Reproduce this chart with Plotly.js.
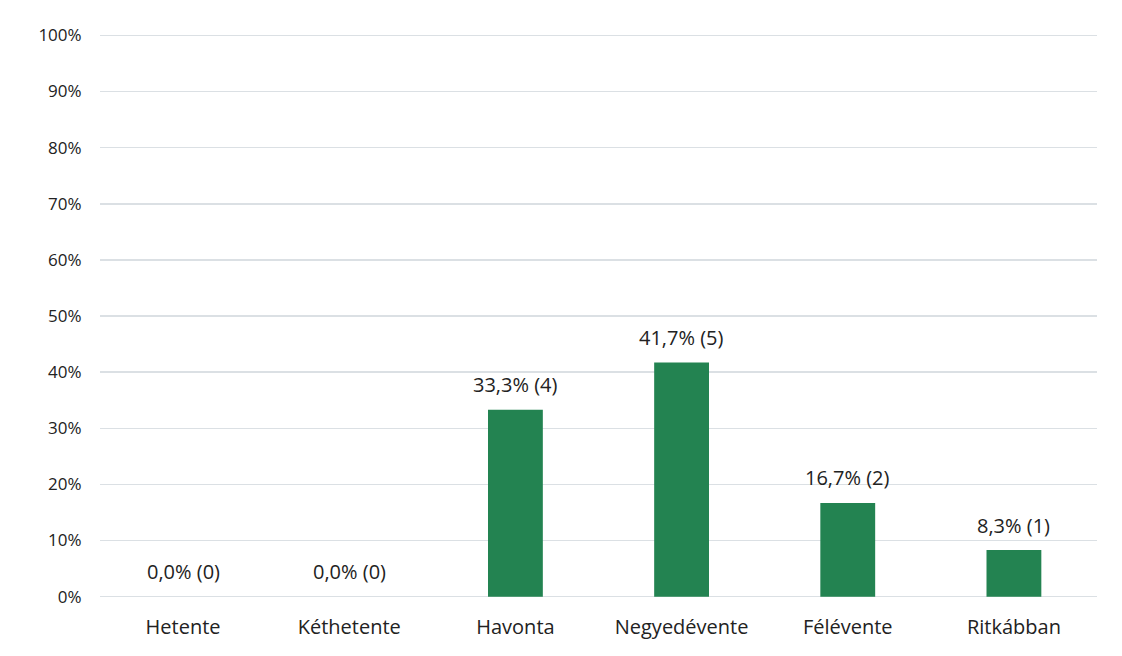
<!DOCTYPE html>
<html>
<head>
<meta charset="utf-8">
<script src="https://cdn.plot.ly/plotly-3.0.1.min.js"></script>
<style>html,body{margin:0;padding:0;background:#fff;}#chart{width:1122px;height:656px;}</style>
</head>
<body>
<div id="chart"></div>
<script>
const categories = ["Hetente", "Kéthetente", "Havonta", "Negyedévente", "Félévente", "Ritkábban"];
const percents = [0.0, 0.0, 33.3, 41.7, 16.7, 8.3];
const counts = [0, 0, 4, 5, 2, 1];
const labels = percents.map((p, i) => p.toFixed(1).replace('.', ',') + '% (' + counts[i] + ')');
const yTicks = [0,10,20,30,40,50,60,70,80,90,100];
const yTickText = yTicks.map(v => v + '%');

const trace = {
  type: 'bar',
  x: categories,
  y: percents,
  marker: {color: '#238351'},
  hoverinfo: 'none'
};

const annotations = categories.map((c, i) => ({
  x: c, y: percents[i], xref: 'x', yref: 'y',
  text: labels[i], showarrow: false,
  yanchor: 'middle', yshift: 25,
  font: {family: 'Open Sans, sans-serif', size: 20, color: '#222'}
}));

const layout = {
  width: 1122, height: 656,
  margin: {l: 100, r: 25, t: 32, b: 56},
  paper_bgcolor: '#ffffff',
  plot_bgcolor: '#ffffff',
  bargap: 0.67,
  showlegend: false,
  annotations: annotations,
  font: {family: 'Open Sans, sans-serif', size: 17, color: '#222'},
  xaxis: {
    tickfont: {size: 20, color: '#222'},
    showgrid: false, zeroline: false, showline: false,
    ticks: 'outside', ticklen: 9, tickcolor: 'rgba(0,0,0,0)'
  },
  yaxis: {
    range: [-0.6, 100.6],
    tickvals: yTicks, ticktext: yTickText,
    tickfont: {size: 17, color: '#222'},
    showgrid: true, gridcolor: '#dbe0e4', gridwidth: 1.5,
    zeroline: false, showline: false,
    ticks: 'outside', ticklen: 14, tickcolor: 'rgba(0,0,0,0)'
  }
};

Plotly.newPlot('chart', [trace], layout, {displayModeBar: false, staticPlot: true});
</script>
</body>
</html>
